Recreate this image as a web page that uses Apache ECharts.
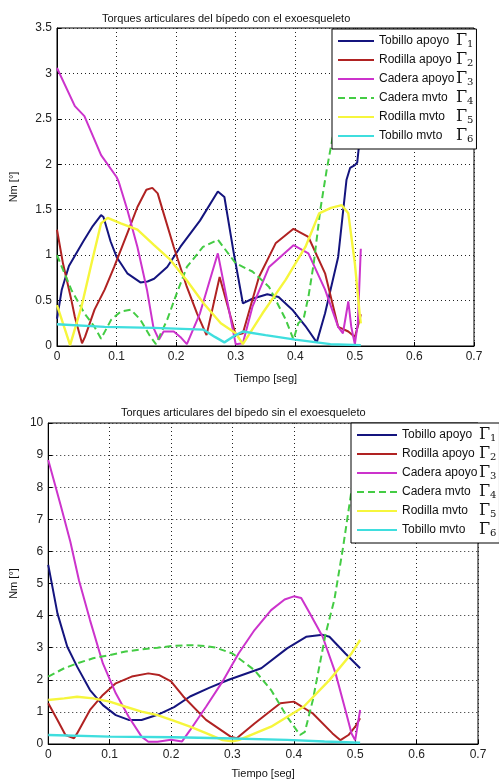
<!DOCTYPE html>
<html>
<head>
<meta charset="utf-8">
<script src="https://cdn.jsdelivr.net/npm/echarts@6/dist/echarts.min.js"></script>
<style>
  html, body { margin: 0; padding: 0; background: #fff; }
  #chart { width: 499px; height: 780px; }
</style>
</head>
<body>
<div id="chart"></div>
<script>
// Joint names and their Gamma indices
const jointNames = ['Tobillo apoyo', 'Rodilla apoyo', 'Cadera apoyo', 'Cadera mvto', 'Rodilla mvto', 'Tobillo mvto'];
const jointIndex = [1, 2, 3, 4, 5, 6];

// Tick values
const xTicks = [0, 0.1, 0.2, 0.3, 0.4, 0.5, 0.6, 0.7];
const yTicksCon = [0, 0.5, 1, 1.5, 2, 2.5, 3, 3.5];
const yTicksSin = [0, 1, 2, 3, 4, 5, 6, 7, 8, 9, 10];

// ---- Con exoesqueleto: [tiempo (s), torque (Nm)] ----
const conTobilloApoyo = [[0,0.3],[0.008,0.62],[0.02,0.88],[0.044,1.15],[0.06,1.32],[0.074,1.44],[0.078,1.42],[0.09,1.15],[0.1,0.98],[0.118,0.8],[0.14,0.70],[0.152,0.71],[0.163,0.74],[0.185,0.87],[0.207,1.09],[0.24,1.38],[0.27,1.70],[0.281,1.64],[0.296,1.05],[0.312,0.47],[0.328,0.52],[0.353,0.57],[0.372,0.54],[0.395,0.4],[0.417,0.22],[0.436,0.04],[0.45,0.36],[0.472,0.98],[0.486,1.83],[0.492,1.96],[0.5,1.99],[0.504,2.02],[0.508,2.27],[0.512,2.5]];
const conRodillaApoyo = [[0,1.28],[0.01,0.91],[0.024,0.51],[0.03,0.32],[0.042,0.03],[0.047,0.1],[0.063,0.4],[0.08,0.62],[0.096,0.87],[0.118,1.24],[0.135,1.53],[0.15,1.72],[0.16,1.74],[0.169,1.68],[0.179,1.46],[0.196,1.09],[0.218,0.65],[0.235,0.36],[0.251,0.12],[0.273,0.76],[0.3,0.12],[0.312,0.14],[0.339,0.76],[0.367,1.13],[0.397,1.29],[0.422,1.2],[0.45,0.8],[0.472,0.21],[0.489,0.16],[0.5,0.1],[0.508,0.29],[0.51,0.35]];
const conCaderaApoyo = [[0,3.06],[0.03,2.64],[0.046,2.53],[0.074,2.10],[0.1,1.86],[0.104,1.8],[0.118,1.5],[0.135,1.09],[0.151,0.62],[0.162,0.2],[0.171,0.07],[0.179,0.16],[0.196,0.16],[0.207,0.1],[0.218,0.02],[0.24,0.36],[0.27,1.02],[0.3,0.02],[0.312,0.03],[0.328,0.43],[0.356,0.87],[0.397,1.11],[0.422,1.02],[0.45,0.62],[0.472,0.21],[0.48,0.14],[0.489,0.49],[0.494,0.21],[0.5,0.02],[0.505,0.25],[0.51,1.07]];
const conCaderaMvto = [[0,1.0],[0.024,0.62],[0.046,0.36],[0.063,0.21],[0.074,0.08],[0.091,0.29],[0.107,0.38],[0.124,0.40],[0.14,0.29],[0.157,0.1],[0.166,0.02],[0.185,0.29],[0.201,0.58],[0.218,0.87],[0.245,1.09],[0.27,1.17],[0.3,0.91],[0.328,0.82],[0.356,0.65],[0.384,0.29],[0.397,0.07],[0.405,0.25],[0.414,0.3],[0.422,0.54],[0.431,0.91],[0.442,1.5],[0.453,1.95],[0.464,2.34],[0.474,2.75],[0.484,3.15]];
const conRodillaMvto = [[0,0.45],[0.022,0.01],[0.041,0.43],[0.058,0.91],[0.074,1.35],[0.085,1.41],[0.107,1.35],[0.135,1.28],[0.163,1.11],[0.19,0.95],[0.218,0.72],[0.246,0.47],[0.275,0.25],[0.3,0.14],[0.312,0.02],[0.345,0.36],[0.384,0.73],[0.417,1.09],[0.44,1.46],[0.46,1.52],[0.478,1.55],[0.489,1.46],[0.5,0.91],[0.508,0.36],[0.51,0.25]];
const conTobilloMvto = [[0,0.24],[0.08,0.21],[0.163,0.2],[0.246,0.18],[0.265,0.1],[0.281,0.04],[0.3,0.12],[0.312,0.16],[0.35,0.12],[0.4,0.07],[0.459,0.02],[0.51,0.01]];

// ---- Sin exoesqueleto: [tiempo (s), torque (Nm)] ----
const sinTobilloApoyo = [[0,5.58],[0.015,4.07],[0.031,3.03],[0.047,2.41],[0.068,1.68],[0.089,1.21],[0.11,0.9],[0.131,0.75],[0.152,0.75],[0.178,0.91],[0.205,1.15],[0.231,1.48],[0.262,1.75],[0.294,2.0],[0.347,2.36],[0.389,2.98],[0.42,3.34],[0.447,3.4],[0.458,3.34],[0.484,2.82],[0.508,2.36]];
const sinRodillaApoyo = [[0,1.27],[0.015,0.75],[0.028,0.28],[0.042,0.18],[0.047,0.33],[0.068,1.06],[0.089,1.53],[0.11,1.89],[0.136,2.1],[0.163,2.2],[0.18,2.15],[0.2,1.95],[0.22,1.48],[0.257,0.75],[0.297,0.23],[0.307,0.18],[0.336,0.64],[0.378,1.27],[0.4,1.32],[0.431,0.95],[0.463,0.33],[0.476,0.12],[0.489,0.28],[0.5,0.54],[0.508,0.8]];
const sinCaderaApoyo = [[0,8.85],[0.02,7.45],[0.036,6.3],[0.05,5.1],[0.068,3.86],[0.089,2.51],[0.11,1.58],[0.131,0.85],[0.152,0.23],[0.163,0.07],[0.178,0.07],[0.2,0.13],[0.218,0.08],[0.231,0.43],[0.257,1.16],[0.284,1.95],[0.31,2.82],[0.336,3.55],[0.363,4.17],[0.385,4.5],[0.4,4.6],[0.412,4.55],[0.426,4.07],[0.447,3.34],[0.468,2.2],[0.484,1.06],[0.494,0.33],[0.5,0.12],[0.508,1.06]];
const sinCaderaMvto = [[0,2.1],[0.026,2.36],[0.047,2.51],[0.073,2.67],[0.1,2.77],[0.126,2.88],[0.152,2.95],[0.178,3.0],[0.205,3.06],[0.231,3.08],[0.258,3.05],[0.273,3.0],[0.3,2.82],[0.336,2.3],[0.363,1.68],[0.389,0.85],[0.41,0.28],[0.418,0.38],[0.431,1.37],[0.452,3.45],[0.466,4.49],[0.48,6.1],[0.494,7.9],[0.51,9.5]];
const sinRodillaMvto = [[0,1.37],[0.026,1.42],[0.047,1.47],[0.073,1.42],[0.1,1.32],[0.126,1.16],[0.152,1.01],[0.178,0.9],[0.205,0.72],[0.231,0.54],[0.258,0.33],[0.284,0.12],[0.3,0.08],[0.31,0.12],[0.363,0.54],[0.416,1.16],[0.458,1.99],[0.494,2.82],[0.508,3.24]];
const sinTobilloMvto = [[0,0.28],[0.1,0.23],[0.205,0.21],[0.284,0.18],[0.389,0.13],[0.45,0.08],[0.508,0.04]];

const conSeries = [conTobilloApoyo, conRodillaApoyo, conCaderaApoyo, conCaderaMvto, conRodillaMvto, conTobilloMvto];
const sinSeries = [sinTobilloApoyo, sinRodillaApoyo, sinCaderaApoyo, sinCaderaMvto, sinRodillaMvto, sinTobilloMvto];

const lineColors = ['#14147e', '#b02222', '#cc33cc', '#44cc44', '#f6f63c', '#3fdede'];
const lineWidths = [2, 2, 2, 2, 2.4, 2.4];
const lineTypes = ['solid', 'solid', 'solid', [7, 4], 'solid', 'solid'];

const font = 'Liberation Sans, Arial, sans-serif';

function fmt(v) { return String(parseFloat(v.toFixed(2))); }

function makeAxes(gridIndex, yTicks, yNameGap, xNameGap) {
  const common = {
    gridIndex: gridIndex,
    type: 'value',
    axisLine: { show: true, onZero: false, lineStyle: { color: '#000', width: 1 } },
    axisTick: { show: true, inside: true, length: 4, lineStyle: { color: '#000' } },
    splitLine: { show: true, lineStyle: { color: '#222', width: 1, type: [1, 3] } },
    axisLabel: { color: '#222', fontSize: 12, fontFamily: font, formatter: fmt },
    nameTextStyle: { color: '#111', fontSize: 11, fontFamily: font },
    nameLocation: 'middle'
  };
  const xAxis = Object.assign({}, common, {
    min: xTicks[0], max: xTicks[xTicks.length - 1], interval: xTicks[1] - xTicks[0],
    name: 'Tiempo [seg]', nameGap: xNameGap,
    axisLabel: Object.assign({}, common.axisLabel, { margin: 5 })
  });
  const yAxis = Object.assign({}, common, {
    min: yTicks[0], max: yTicks[yTicks.length - 1], interval: yTicks[1] - yTicks[0],
    name: 'Nm [°]', nameGap: yNameGap,
    axisLabel: Object.assign({}, common.axisLabel, { margin: 5 })
  });
  return { xAxis, yAxis };
}

function makeSeries(datasets, axisIndex) {
  return datasets.map((data, i) => ({
    type: 'line',
    name: jointNames[i],
    xAxisIndex: axisIndex,
    yAxisIndex: axisIndex,
    data: data,
    showSymbol: false,
    symbol: 'none',
    smooth: false,
    clip: true,
    animation: false,
    lineStyle: { color: lineColors[i], width: lineWidths[i], type: lineTypes[i] },
    itemStyle: { color: lineColors[i] }
  }));
}

function makeLegend(left, top, width, itemWidth, nameWidth) {
  return {
    orient: 'vertical',
    left: left, top: top, width: width,
    data: jointNames,
    backgroundColor: '#fff',
    borderColor: '#000', borderWidth: 1, borderRadius: 0,
    padding: [4, 3, 5, 5],
    itemGap: 3,
    itemWidth: itemWidth,
    itemHeight: 14,
    selectedMode: false,
    // legend keys show only the line stroke, no marker
    itemStyle: { color: 'rgba(0,0,0,0)', borderColor: 'rgba(0,0,0,0)', borderWidth: 0 },
    formatter: function (name) {
      const k = jointIndex[jointNames.indexOf(name)];
      return '{a|' + name + '}{g|Γ}{s|' + k + '}';
    },
    textStyle: {
      color: '#111',
      rich: {
        a: { fontSize: 12, fontFamily: font, width: nameWidth, color: '#111', lineHeight: 14 },
        g: { fontSize: 16, fontFamily: 'DejaVu Serif, Liberation Serif, serif', color: '#111', lineHeight: 14 },
        s: { fontSize: 10, fontFamily: 'DejaVu Serif, Liberation Serif, serif', color: '#111', padding: [6, 0, 0, 0], lineHeight: 14 }
      }
    }
  };
}

const axCon = makeAxes(0, yTicksCon, 38, 27);
const axSin = makeAxes(1, yTicksSin, 29, 24);

const option = {
  backgroundColor: '#fff',
  animation: false,
  title: [
    { text: 'Torques articulares del bípedo con el exoesqueleto', left: 97, top: 8,
      textStyle: { fontSize: 11, fontWeight: 'normal', color: '#111', fontFamily: font } },
    { text: 'Torques articulares del bípedo sin el exoesqueleto', left: 116, top: 402,
      textStyle: { fontSize: 11, fontWeight: 'normal', color: '#111', fontFamily: font } }
  ],
  grid: [
    { left: 52, top: 28, right: 25, height: 318, show: true, borderColor: '#000', borderWidth: 1, backgroundColor: 'transparent' },
    { left: 37, top: 423, right: 21, height: 321, show: true, borderColor: '#000', borderWidth: 1, backgroundColor: 'transparent' }
  ],
  xAxis: [axCon.xAxis, axSin.xAxis],
  yAxis: [axCon.yAxis, axSin.yAxis],
  legend: [
    makeLegend(332, 29, 143, 36, 77),
    makeLegend(351, 423, 146, 40, 77)
  ],
  series: makeSeries(conSeries, 0).concat(makeSeries(sinSeries, 1))
};

const chart = echarts.init(document.getElementById('chart'), null, { renderer: 'canvas' });
chart.setOption(option);
</script>
</body>
</html>
